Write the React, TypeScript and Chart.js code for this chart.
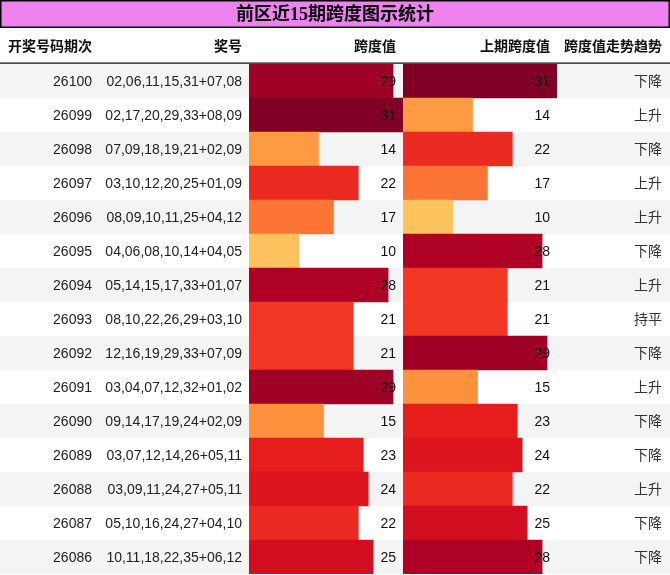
import { useEffect, useRef } from 'react'
import { Chart, registerables } from 'chart.js'
import type { Plugin } from 'chart.js'

Chart.register(...registerables)

// 期次、奖号、跨度数据
const periods = ['26100', '26099', '26098', '26097', '26096', '26095', '26094', '26093', '26092', '26091', '26090', '26089', '26088', '26087', '26086']
const numbers = [
  '02,06,11,15,31+07,08',
  '02,17,20,29,33+08,09',
  '07,09,18,19,21+02,09',
  '03,10,12,20,25+01,09',
  '08,09,10,11,25+04,12',
  '04,06,08,10,14+04,05',
  '05,14,15,17,33+01,07',
  '08,10,22,26,29+03,10',
  '12,16,19,29,33+07,09',
  '03,04,07,12,32+01,02',
  '09,14,17,19,24+02,09',
  '03,07,12,14,26+05,11',
  '03,09,11,24,27+05,11',
  '05,10,16,24,27+04,10',
  '10,11,18,22,35+06,12'
]
const spans = [29, 31, 14, 22, 17, 10, 28, 21, 21, 29, 15, 23, 24, 22, 25]
const prevSpans = [31, 14, 22, 17, 10, 28, 21, 21, 29, 15, 23, 24, 22, 25, 28]
const trends = ['下降', '上升', '下降', '上升', '上升', '下降', '上升', '持平', '下降', '上升', '下降', '下降', '上升', '下降', '下降']
const headers = ['开奖号码期次', '奖号', '跨度值', '上期跨度值', '跨度值走势趋势']
const title = '前区近15期跨度图示统计'

const W = 670
const H = 575
const maxSpan = Math.max(...spans, ...prevSpans)

// YlOrRd colour stops
const stops = ['#ffffcc', '#ffeda0', '#fed976', '#feb24c', '#fd8d3c', '#fc4e2a', '#e31a1c', '#bd0026', '#800026']

const hexToRgb = (h: string) => [1, 3, 5].map(i => parseInt(h.slice(i, i + 2), 16))

const spanColor = (v: number) => {
  const t = Math.min(1, Math.max(0, v / maxSpan)) * (stops.length - 1)
  const i = Math.min(stops.length - 2, Math.floor(t))
  const f = t - i
  const a = hexToRgb(stops[i])
  const b = hexToRgb(stops[i + 1])
  const c = a.map((x, k) => Math.round(x + (b[k] - x) * f))
  return `rgb(${c[0]}, ${c[1]}, ${c[2]})`
}

const SANS = "'Liberation Sans', 'Noto Sans CJK SC', sans-serif"

/**
 * Draws title, header, row stripes and text columns
 */
const tablePlugin: Plugin<'bar'> = {
  id: 'spanTable',
  beforeDatasetsDraw(chart) {
    const { ctx, chartArea, scales } = chart
    const y = scales.y
    const x1 = scales.x1
    const x2 = scales.x2
    const band = (chartArea.bottom - chartArea.top) / periods.length
    const rights = [92, 242, x1.right - 7, x2.right - 7, W - 8]

    ctx.save()

    // title bar
    ctx.fillStyle = '#ee82ee'
    ctx.fillRect(0, 0, W, 28)
    ctx.strokeStyle = '#000'
    ctx.lineWidth = 1.5
    ctx.strokeRect(0.75, 0.75, W - 1.5, 26.5)
    ctx.fillStyle = '#000'
    ctx.font = "bold 18px 'Liberation Serif', 'Noto Sans CJK SC', serif"
    ctx.textAlign = 'center'
    ctx.textBaseline = 'middle'
    ctx.fillText(title, W / 2, 15)

    // header
    ctx.font = `bold 14px ${SANS}`
    ctx.textAlign = 'right'
    ctx.fillStyle = '#111'
    headers.forEach((h, i) => ctx.fillText(h, rights[i], 47))
    ctx.fillStyle = '#000'
    ctx.fillRect(0, 62.5, W, 1.2)

    // stripes
    periods.forEach((_, i) => {
      if (i % 2 === 0) {
        const cy = y.getPixelForValue(i)
        ctx.fillStyle = '#f4f4f4'
        ctx.fillRect(0, cy - band / 2, W, band)
      }
    })

    // text columns
    ctx.font = `14px ${SANS}`
    periods.forEach((p, i) => {
      const cy = y.getPixelForValue(i) + 1
      ctx.fillStyle = '#222'
      ctx.fillText(p, rights[0], cy)
      ctx.fillText(numbers[i], rights[1], cy)
      ctx.fillStyle = '#333'
      ctx.fillText(trends[i], rights[4], cy)
    })

    ctx.restore()
  },
  afterDatasetsDraw(chart) {
    const { ctx, scales } = chart
    const y = scales.y
    const x1 = scales.x1
    const x2 = scales.x2
    ctx.save()
    ctx.font = `14px ${SANS}`
    ctx.textAlign = 'right'
    ctx.textBaseline = 'middle'
    ctx.fillStyle = '#111'
    periods.forEach((_, i) => {
      const cy = y.getPixelForValue(i) + 1
      ctx.fillText(String(spans[i]), x1.right - 7, cy)
      ctx.fillText(String(prevSpans[i]), x2.right - 7, cy)
    })
    ctx.restore()
  }
}

export default function App() {
  const canvasRef = useRef<HTMLCanvasElement | null>(null)

  useEffect(() => {
    if (!canvasRef.current) return
    const chart = new Chart(canvasRef.current, {
      type: 'bar',
      data: {
        labels: periods,
        datasets: [
          {
            label: '跨度值',
            data: spans,
            xAxisID: 'x1',
            backgroundColor: spans.map(spanColor),
            barPercentage: 1,
            categoryPercentage: 1,
            grouped: false,
            borderWidth: 0
          },
          {
            label: '上期跨度值',
            data: prevSpans,
            xAxisID: 'x2',
            backgroundColor: prevSpans.map(spanColor),
            barPercentage: 1,
            categoryPercentage: 1,
            grouped: false,
            borderWidth: 0
          }
        ]
      },
      options: {
        indexAxis: 'y',
        responsive: false,
        animation: false,
        layout: {
          padding: { left: 249, right: 113, top: 64, bottom: 1 }
        },
        plugins: {
          legend: { display: false },
          tooltip: { enabled: false }
        },
        scales: {
          y: { type: 'category', display: false },
          x1: {
            type: 'linear',
            position: 'bottom',
            stack: 'cols',
            stackWeight: 1,
            min: 0,
            max: maxSpan,
            display: false
          },
          x2: {
            type: 'linear',
            position: 'bottom',
            stack: 'cols',
            stackWeight: 1,
            min: 0,
            max: maxSpan,
            display: false
          }
        }
      },
      plugins: [tablePlugin]
    })
    return () => chart.destroy()
  }, [])

  return (
    <div style={{ position: 'fixed', left: 0, top: 0, width: W, height: H, background: '#fff' }}>
      <canvas ref={canvasRef} width={W} height={H} />
    </div>
  )
}
